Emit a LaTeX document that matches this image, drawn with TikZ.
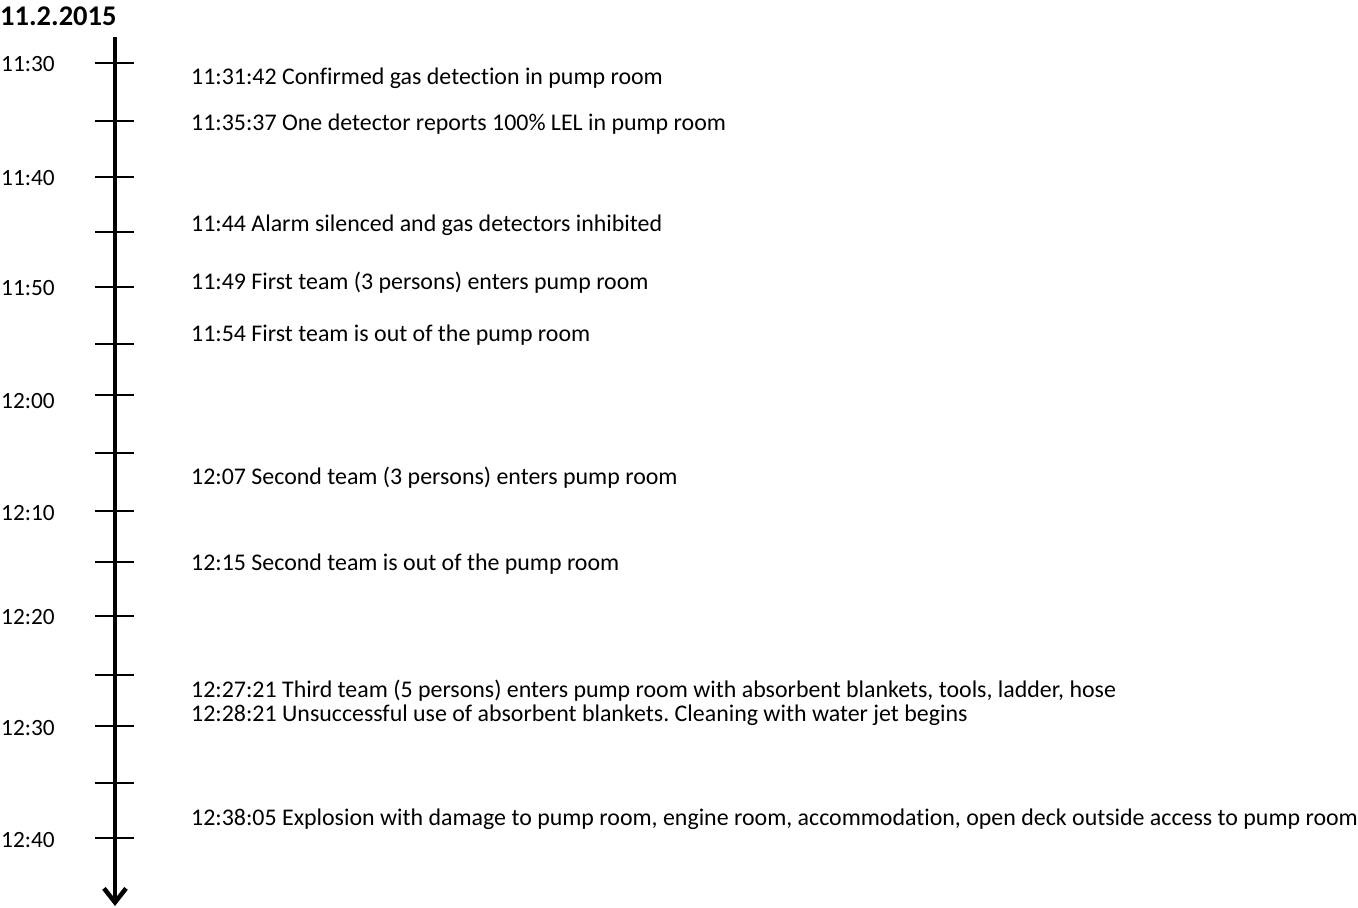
\documentclass[tikz,border=0pt]{standalone}
\usepackage{fontspec}
\setmainfont[Ligatures=CommonOff]{Carlito}
\usetikzlibrary{arrows.meta}
\begin{document}
\frenchspacing
\begin{tikzpicture}[x=1pt,y=-1pt,
  tick/.style={line width=1.3pt},
  timelabel/.style={anchor=west,inner sep=0pt,yshift=-1pt,font=\fontsize{23.3}{26}\selectfont},
  eventlabel/.style={anchor=west,inner sep=0pt,yshift=-2pt,font=\fontsize{23.9}{26}\selectfont},
  datelabel/.style={anchor=west,inner sep=0pt,font=\bfseries\fontsize{28.5}{31}\selectfont}]
\useasboundingbox (0,0) rectangle (1358,908);
\node[datelabel] (date) at (0,16) {11.2.2015};
\coordinate (top) at (115,37);
\coordinate (bottom) at (115,906);
\draw[line width=4.5pt,-{Straight Barb[length=14pt,width=22pt,line width=4.5pt]}] (top) -- (bottom);
\foreach \y [count=\i] in {63,121,177,232,287,344,395,453,511,562,616,675,726,783,838}{
  \coordinate (tl\i) at (95,\y);
  \coordinate (tr\i) at (134,\y);
  \draw[tick] (tl\i) -- (tr\i);
}
\foreach \y/\t [count=\i] in {63/11:30,177/11:40,287/11:50,400/12:00,512/12:10,616/12:20,727/12:30,839/12:40}{
  \node[timelabel] (time\i) at (1,\y) {\t};
}
\node[eventlabel] (e1) at (191,76) {11:31:42 Confirmed gas detection in pump room};
\node[eventlabel] (e2) at (191,122) {11:35:37 One detector reports 100\% LEL in pump room};
\node[eventlabel] (e3) at (191,223) {11:44 Alarm silenced and gas detectors inhibited};
\node[eventlabel] (e4) at (191,281) {11:49 First team (3 persons) enters pump room};
\node[eventlabel] (e5) at (191,333) {11:54 First team is out of the pump room};
\node[eventlabel] (e6) at (191,476) {12:07 Second team (3 persons) enters pump room};
\node[eventlabel] (e7) at (191,562) {12:15 Second team is out of the pump room};
\node[eventlabel] (e8) at (191,689) {12:27:21 Third team (5 persons) enters pump room with absorbent blankets, tools, ladder, hose};
\node[eventlabel] (e9) at (191,713) {12:28:21 Unsuccessful use of absorbent blankets. Cleaning with water jet begins};
\node[eventlabel] (e10) at (191,817) {12:38:05 Explosion with damage to pump room, engine room, accommodation, open deck outside access to pump room};
\end{tikzpicture}
\end{document}
